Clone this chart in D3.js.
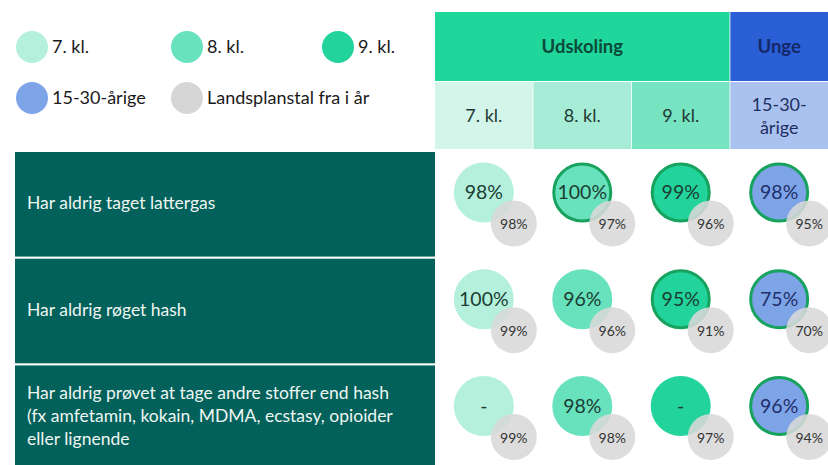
<!DOCTYPE html>
<html>
<head>
<meta charset="utf-8">
<script src="https://cdn.jsdelivr.net/npm/d3@7"></script>
<style>
  html, body { margin: 0; padding: 0; background: #ffffff; }
  svg { display: block; font-family: Lato, "Open Sans", sans-serif; }
</style>
</head>
<body>
<svg id="chart" width="828" height="465"></svg>
<script>
// ---------- data ----------
const columns = ["7. kl.", "8. kl.", "9. kl.", "15-30-årige"];
const columnLabels = [["7. kl."], ["8. kl."], ["9. kl."], ["15-30-", "årige"]];
const groups = [
  { name: "Udskoling", cols: ["7. kl.", "8. kl.", "9. kl."] },
  { name: "Unge", cols: ["15-30-årige"] }
];
const rowLabels = [
  ["Har aldrig taget lattergas"],
  ["Har aldrig røget hash"],
  ["Har aldrig prøvet at tage andre stoffer end hash", "(fx amfetamin, kokain, MDMA, ecstasy, opioider", "eller lignende"]
];
// local values (null = no data, shown as "-")
const localValues = [
  [98, 100, 99, 98],
  [100, 96, 95, 75],
  [null, 98, null, 96]
];
// national values ("Landsplanstal fra i år")
const nationalValues = [
  [98, 97, 96, 95],
  [99, 96, 91, 70],
  [99, 98, 97, 94]
];
// outlined circles (marked difference)
const highlighted = [
  [false, true, true, true],
  [false, false, true, true],
  [false, false, false, true]
];
const legendItems = ["7. kl.", "8. kl.", "9. kl.", "15-30-årige", "Landsplanstal fra i år"];

// ---------- styles ----------
const circleColor = { "7. kl.": "#b4f0dc", "8. kl.": "#68e2bd", "9. kl.": "#22d49b", "15-30-årige": "#7ea4e8" };
const subHeadColor = { "7. kl.": "#d3f5ea", "8. kl.": "#a6ecd6", "9. kl.": "#76e3c1", "15-30-årige": "#a9c2ef" };
const groupColor = { "Udskoling": "#1fd69b", "Unge": "#2a5fd6" };
const groupText = { "Udskoling": "#0b4a3a", "Unge": "#14286a" };
const grayColor = "#d8d8d8";
const legendColor = d3.scaleOrdinal().domain(legendItems)
  .range(["#b4f0dc", "#68e2bd", "#22d49b", "#7ea4e8", "#d6d6d6"]);

const svg = d3.select("#chart");

// ---------- scales ----------
const x = d3.scaleBand().domain(columns).range([435, 828]).paddingInner(0.008);
const y = d3.scaleBand().domain(d3.range(rowLabels.length)).range([152, 470]).paddingInner(0.02);

// ---------- legend ----------
const legendPos = [[32, 47], [187, 47], [338, 47], [32, 98], [187, 98]];
const lg = svg.append("g").selectAll("g").data(legendItems).join("g")
  .attr("transform", (d, i) => `translate(${legendPos[i][0]},${legendPos[i][1]})`);
lg.append("circle").attr("r", 16).attr("fill", d => legendColor(d));
lg.append("text").attr("x", 20).attr("dy", "0.35em")
  .attr("font-size", 18).attr("fill", "#1a1a1a").text(d => d);

// ---------- group header ----------
groups.forEach(g => {
  const x0 = x(g.cols[0]);
  const x1 = x(g.cols[g.cols.length - 1]) + x.bandwidth();
  svg.append("rect").attr("x", x0).attr("y", 12).attr("width", x1 - x0).attr("height", 69)
    .attr("fill", groupColor[g.name]);
  svg.append("text").attr("x", (x0 + x1) / 2).attr("y", 47).attr("dy", "0.35em")
    .attr("text-anchor", "middle").attr("font-weight", "bold").attr("font-size", 18.5)
    .attr("fill", groupText[g.name]).text(g.name);
});

// ---------- sub header ----------
const sh = svg.append("g").selectAll("g").data(columns).join("g");
sh.append("rect").attr("x", d => x(d)).attr("y", 82).attr("width", x.bandwidth()).attr("height", 67)
  .attr("fill", d => subHeadColor[d]);
sh.each(function(d, i) {
  const lines = columnLabels[i];
  const cx = x(d) + x.bandwidth() / 2;
  const t = d3.select(this).append("text").attr("text-anchor", "middle")
    .attr("font-size", 18).attr("fill", d === "15-30-årige" ? "#1f2f5e" : "#223a33");
  lines.forEach((l, j) => {
    t.append("tspan").attr("x", cx)
      .attr("y", 116 + (j - (lines.length - 1) / 2) * 23)
      .attr("dy", "0.35em").text(l);
  });
});

// ---------- row labels ----------
const rl = svg.append("g").selectAll("g").data(rowLabels).join("g");
rl.append("rect").attr("x", 15).attr("y", (d, i) => y(i)).attr("width", 420).attr("height", y.bandwidth())
  .attr("fill", "#02615a");
rl.each(function(lines, i) {
  const cy = i === 2 ? 416 : y(i) + 51;
  const t = d3.select(this).append("text").attr("font-size", 17.5).attr("fill", "#eef6f3");
  lines.forEach((l, j) => {
    t.append("tspan").attr("x", 27)
      .attr("y", cy + (j - (lines.length - 1) / 2) * 23)
      .attr("dy", "0.35em").text(l);
  });
});

// ---------- circles ----------
const cells = [];
rowLabels.forEach((r, i) => columns.forEach((c, j) => cells.push({
  row: i, col: c, local: localValues[i][j], nat: nationalValues[i][j], hl: highlighted[i][j]
})));

const cg = svg.append("g").selectAll("g").data(cells).join("g")
  .attr("transform", d => `translate(${x(d.col) + x.bandwidth() / 2},${y(d.row) + 40.5})`);

cg.append("circle").attr("r", d => d.hl ? 28.5 : 30)
  .attr("fill", d => circleColor[d.col])
  .attr("stroke", d => d.hl ? "#17a25e" : "none")
  .attr("stroke-width", 3);
cg.append("text").attr("text-anchor", "middle").attr("dy", "0.35em")
  .attr("font-size", 19.5)
  .attr("fill", d => d.col === "15-30-årige" ? "#1e2f6a" : "#1b3d33")
  .text(d => d.local == null ? "-" : d.local + "%");

cg.append("circle").attr("cx", 30).attr("cy", 31).attr("r", 23)
  .attr("fill", grayColor).attr("fill-opacity", 0.88);
cg.append("text").attr("x", 30).attr("y", 32).attr("text-anchor", "middle").attr("dy", "0.35em")
  .attr("font-size", 14).attr("fill", "#333")
  .text(d => d.nat + "%");
</script>
</body>
</html>
